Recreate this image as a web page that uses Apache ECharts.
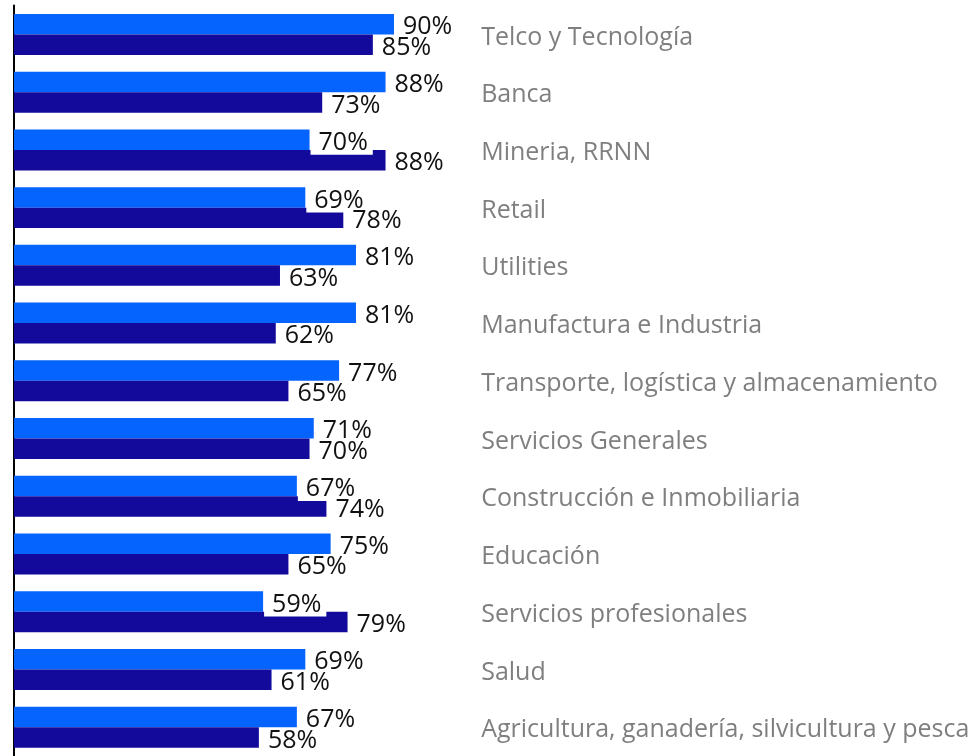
<!DOCTYPE html>
<html>
<head>
<meta charset="utf-8">
<script src="https://cdn.jsdelivr.net/npm/echarts@6/dist/echarts.min.js"></script>
<style>
  html, body { margin: 0; padding: 0; background: #fff; }
  #chart { width: 979px; height: 756px; }
</style>
</head>
<body>
<div id="chart"></div>
<script>
// sectores (de arriba hacia abajo)
const sectores = [
    'Telco y Tecnología',
    'Banca',
    'Mineria, RRNN',
    'Retail',
    'Utilities',
    'Manufactura e Industria',
    'Transporte, logística y almacenamiento',
    'Servicios Generales',
    'Construcción e Inmobiliaria',
    'Educación',
    'Servicios profesionales',
    'Salud',
    'Agricultura, ganadería, silvicultura y pesca'
]
// barra superior (azul claro)
const serieA = [90, 88, 70, 69, 81, 81, 77, 71, 67, 75, 59, 69, 67]
// barra inferior (azul oscuro)
const serieB = [85, 73, 88, 78, 63, 62, 65, 70, 74, 65, 79, 61, 58]

const colorA = '#0563fe'
const colorB = '#130a9c'

const labelStyle = {
    show: true,
    position: 'right',
    distance: 1,
    offset: [0, 3],
    formatter: '{c}%',
    color: '#111',
    fontFamily: 'Open Sans',
    fontSize: 25,
    lineHeight: 24,
    backgroundColor: '#fff',
    padding: [0, 5, 0, 8]
}

const chart = echarts.init(document.getElementById('chart'))
chart.setOption({
    animation: false,
    grid: { left: 14, top: 5.6, width: 422.2, height: 754 },
    xAxis: {
        type: 'value',
        min: 0,
        max: 100,
        show: false
    },
    yAxis: [
        {
            type: 'category',
            data: sectores,
            inverse: true,
            position: 'left',
            axisLine: { show: true, lineStyle: { color: '#000', width: 2 } },
            axisTick: { show: false },
            axisLabel: { show: false }
        },
        {
            type: 'category',
            data: sectores,
            inverse: true,
            position: 'right',
            axisLine: { show: false },
            axisTick: { show: false },
            axisLabel: {
                show: true,
                margin: 45,
                align: 'left',
                verticalAlign: 'top',
                lineHeight: 6,
                color: '#7f7f7f',
                fontFamily: 'Open Sans',
                fontSize: 25
            }
        }
    ],
    series: [
        {
            name: 'A',
            type: 'bar',
            data: serieA,
            barGap: '0%',
            barCategoryGap: '29%',
            itemStyle: { color: colorA },
            label: labelStyle
        },
        {
            name: 'B',
            type: 'bar',
            data: serieB,
            barGap: '0%',
            barCategoryGap: '29%',
            itemStyle: { color: colorB },
            label: labelStyle
        }
    ]
})
</script>
</body>
</html>
